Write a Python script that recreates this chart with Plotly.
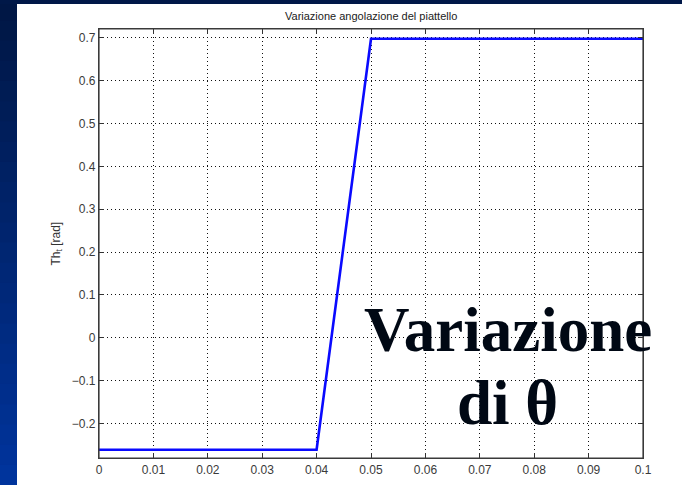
import plotly.graph_objects as go

# Data
t_vals = [0.0, 0.04, 0.05, 0.1]
theta_vals = [-0.2618, -0.2618, 0.6981, 0.6981]
x_ticks = [0, 0.01, 0.02, 0.03, 0.04, 0.05, 0.06, 0.07, 0.08, 0.09, 0.1]
x_ticklabels = ["0", "0.01", "0.02", "0.03", "0.04", "0.05", "0.06", "0.07", "0.08", "0.09", "0.1"]
y_ticks = [-0.2, -0.1, 0, 0.1, 0.2, 0.3, 0.4, 0.5, 0.6, 0.7]
y_ticklabels = ["\u22120.2", "\u22120.1", "0", "0.1", "0.2", "0.3", "0.4", "0.5", "0.6", "0.7"]

W, H = 682, 485
L, R, T, B = 99, 643, 29, 458
pw, ph = R - L, B - T

def px(x):
    return (x - L) / pw

def py(y):
    return (B - y) / ph

fig = go.Figure()
fig.add_trace(go.Scatter(x=t_vals, y=theta_vals, mode="lines",
                         line=dict(color="#0a0aff", width=2.6), showlegend=False,
                         hoverinfo="skip"))

shapes = []
# slide background: white panel + blue gradient strips
shapes.append(dict(type="rect", xref="paper", yref="paper", x0=px(17), x1=px(W), y0=py(H), y1=py(4),
                   fillcolor="#ffffff", line=dict(width=0), layer="below"))
c0 = (0x00, 0x17, 0x45)
c1 = (0x00, 0x34, 0x9c)
n = 24
for i in range(n):
    f = i / (n - 1)
    col = "rgb(%d,%d,%d)" % tuple(int(c0[k] + (c1[k] - c0[k]) * f) for k in range(3))
    y0p = H * i / n
    y1p = min(H, H * (i + 1) / n + 2)
    shapes.append(dict(type="rect", xref="paper", yref="paper", x0=px(0), x1=px(17),
                       y0=py(y1p), y1=py(y0p), fillcolor=col, line=dict(width=0), layer="below"))
shapes.append(dict(type="rect", xref="paper", yref="paper", x0=px(0), x1=px(W),
                   y0=py(4), y1=py(0), fillcolor="rgb(0,24,72)", line=dict(width=0), layer="below"))
# axes box
shapes.append(dict(type="rect", xref="paper", yref="paper", x0=0, x1=1, y0=0, y1=1,
                   line=dict(color="#3a3a3a", width=1.2), layer="above"))

annotations = [
    dict(text="Variazione angolazione del piattello", xref="paper", yref="paper",
         x=0.5, y=py(16), xanchor="center", yanchor="middle", showarrow=False,
         font=dict(family="Liberation Sans, Arial", size=11, color="#222")),
    dict(text="Th<sub>t</sub> [rad]", xref="paper", yref="paper", x=px(56), y=0.5,
         xanchor="center", yanchor="middle", textangle=-90, showarrow=False,
         font=dict(family="Liberation Sans, Arial", size=12, color="#333")),
    dict(text="<b>Variazione</b>", xref="paper", yref="paper", x=px(508), y=py(330),
         xanchor="center", yanchor="middle", showarrow=False,
         font=dict(family="Liberation Serif, Times New Roman", size=63, color="#000814")),
    dict(text="<b>di θ</b>", xref="paper", yref="paper", x=px(507), y=py(403),
         xanchor="center", yanchor="middle", showarrow=False,
         font=dict(family="Liberation Serif, Times New Roman", size=63, color="#000814")),
]

axis_common = dict(showgrid=True, gridcolor="#111111", griddash="1px,3px", gridwidth=1,
                   ticks="inside", ticklen=5, tickcolor="#333", mirror="allticks",
                   showline=True, linecolor="#3a3a3a", linewidth=1.2, zeroline=False,
                   automargin=False,
                   tickfont=dict(family="Liberation Sans, Arial", size=12, color="#3a3a3a"))

fig.update_layout(
    width=W, height=H,
    margin=dict(l=L, r=W - R, t=T, b=H - B, pad=0, autoexpand=False),
    paper_bgcolor="rgb(0,40,120)", plot_bgcolor="#ffffff",
    xaxis=dict(range=[0, 0.1], tickvals=x_ticks, ticktext=x_ticklabels, **axis_common),
    yaxis=dict(range=[-0.281, 0.721], tickvals=y_ticks, ticktext=y_ticklabels, **axis_common),
    shapes=shapes, annotations=annotations,
)

fig.write_html("out.html")
